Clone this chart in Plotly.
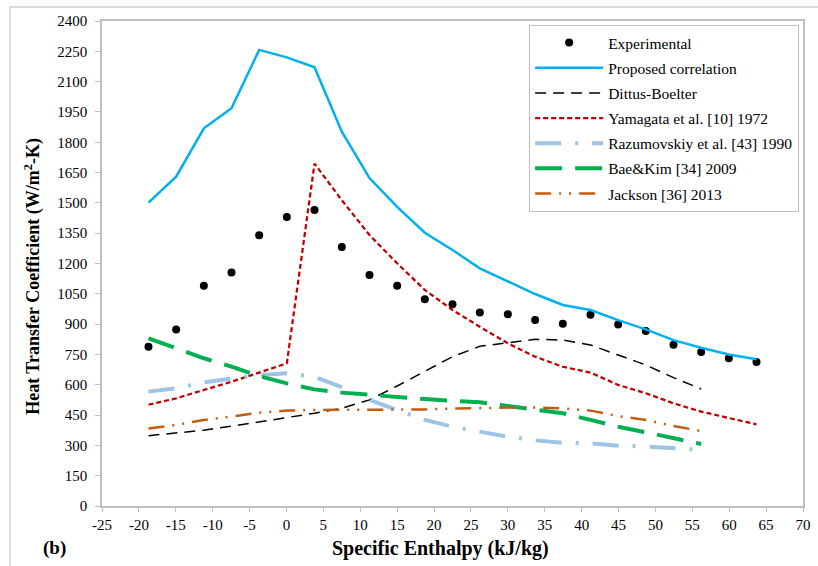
import plotly.graph_objects as go

# ---------------- data ----------------
enthalpy = [-18.7, -14.95, -11.2, -7.45, -3.7, 0.05, 3.8, 7.5, 11.25, 15.0, 18.75,
            22.5, 26.2, 30.0, 33.7, 37.45, 41.2, 44.95, 48.7, 52.45, 56.2, 59.95, 63.7]

experimental = [788, 874, 1090, 1156, 1340, 1430, 1465, 1282, 1143, 1090, 1023,
                998, 957, 949, 920, 902, 947, 898, 866, 798, 762, 731, 713]
proposed = [1501, 1630, 1869, 1968, 2257, 2220, 2171, 1852, 1623, 1480, 1352,
            1267, 1176, 1113, 1049, 995, 970, 920, 874, 821, 783, 750, 726]
yamagata = [501, 533, 574, 615, 660, 706, 1694, 1513, 1341, 1201, 1069,
            970, 887, 805, 739, 689, 660, 599, 558, 508, 467, 434, 404]
# the following series stop at ~56 kJ/kg
dittus = [348, 360, 375, 395, 416, 435, 459, 484, 525, 594, 665,
          739, 790, 808, 825, 821, 797, 747, 698, 635, 579]
razumovskiy = [566, 582, 612, 630, 648, 657, 638, 588, 525, 475, 426,
               392, 368, 343, 325, 313, 310, 298, 295, 285, 277]
bae_kim = [830, 780, 731, 690, 643, 607, 577, 561, 549, 538, 529,
           521, 513, 495, 478, 459, 426, 392, 365, 335, 307]
jackson = [383, 401, 426, 442, 462, 472, 475, 475, 475, 475, 478,
           482, 485, 487, 487, 483, 472, 445, 426, 396, 371]

names = ["Experimental", "Proposed correlation", "Dittus-Boelter",
         "Yamagata et al. [10] 1972", "Razumovskiy et al. [43] 1990",
         "Bae&Kim [34] 2009", "Jackson [36] 2013"]

x_tickvals = list(range(-25, 71, 5))
x_ticktext = [str(v) for v in x_tickvals]   # plain hyphen-minus, as in the original

FONT = "Liberation Serif, Times New Roman, serif"
GRAY = "#BFBFBF"

# plot-area geometry in pixels (for placing titles)
L, R, T, B = 102, 811, 21, 506
W, H = 818, 566


def px_x(p):
    return (p - L) / (R - L)


def px_y(p):
    return (B - p) / (B - T)


fig = go.Figure()

fig.add_trace(go.Scatter(x=enthalpy, y=experimental, mode="markers", name=names[0],
                         legendgroup="g0",
                         marker=dict(color="black", size=8)))
fig.add_trace(go.Scatter(x=enthalpy, y=proposed, mode="lines", name=names[1],
                         legendgroup="g1",
                         line=dict(color="#00B0F0", width=2.5)))
fig.add_trace(go.Scatter(x=enthalpy[:len(dittus)], y=dittus, mode="lines", name=names[2],
                         legendgroup="g2",
                         line=dict(color="black", width=1.5, dash="11px,7px")))
fig.add_trace(go.Scatter(x=enthalpy, y=yamagata, mode="lines", name=names[3],
                         legendgroup="g3",
                         line=dict(color="#C00000", width=2.25, dash="5px,3px")))
fig.add_trace(go.Scatter(x=enthalpy[:len(razumovskiy)], y=razumovskiy, mode="lines", name=names[4],
                         legendgroup="g4",
                         line=dict(color="#9DC3E6", width=4, dash="26px,14px,3px,14px")))
fig.add_trace(go.Scatter(x=enthalpy[:len(bae_kim)], y=bae_kim, mode="lines", name=names[5],
                         legendgroup="g5",
                         line=dict(color="#00B050", width=4, dash="27px,13px")))
fig.add_trace(go.Scatter(x=enthalpy[:len(jackson)], y=jackson, mode="lines", name=names[6],
                         legendgroup="g6",
                         line=dict(color="#C55A11", width=2.5, dash="16px,8px,2px,8px,2px,8px")))

fig.update_layout(
    width=W, height=H,
    margin=dict(l=L, r=W - R, t=T, b=H - B),
    paper_bgcolor="white", plot_bgcolor="white",
    font=dict(family=FONT, size=15, color="black"),
    showlegend=True,
    legend=dict(x=px_x(534), y=px_y(25), xanchor="left", yanchor="top",
                bgcolor="white", bordercolor=GRAY, borderwidth=1,
                font=dict(family=FONT, size=15.5, color="black"),
                tracegroupgap=2, itemwidth=68),
    xaxis=dict(range=[-25, 70], tickvals=x_tickvals, ticktext=x_ticktext,
               showgrid=False, zeroline=False,
               showline=True, linecolor=GRAY, linewidth=1.5, mirror=True,
               ticks="outside", ticklen=4, tickcolor=GRAY,
               tickfont=dict(family=FONT, size=15)),
    yaxis=dict(range=[0, 2400], dtick=150, showgrid=False, zeroline=False,
               showline=True, linecolor=GRAY, linewidth=1.5, mirror=True,
               ticks="outside", ticklen=5, tickcolor=GRAY, ticklabelstandoff=5,
               tickfont=dict(family=FONT, size=15)),
)

# outer chart-area frame
fig.add_shape(type="rect", xref="paper", yref="paper",
              x0=px_x(9), x1=px_x(840), y0=px_y(600), y1=px_y(7),
              line=dict(color="#D0D0D0", width=1.5), layer="below")

# axis titles
fig.add_annotation(text="<b>Specific Enthalpy (kJ/kg)</b>", xref="paper", yref="paper",
                   x=px_x(444), y=px_y(548), xanchor="center", yanchor="middle",
                   showarrow=False, font=dict(family=FONT, size=20))
fig.add_annotation(text="<b>Heat Transfer Coefficient (W/m<sup>2</sup>-K)</b>",
                   xref="paper", yref="paper", textangle=-90,
                   x=px_x(32), y=px_y(276), xanchor="center", yanchor="middle",
                   showarrow=False, font=dict(family=FONT, size=18))

fig.add_annotation(text="<b>(b)</b>", xref="paper", yref="paper",
                   x=px_x(54), y=px_y(548), xanchor="center", yanchor="middle",
                   showarrow=False, font=dict(family=FONT, size=19))

fig.write_html("out.html")
